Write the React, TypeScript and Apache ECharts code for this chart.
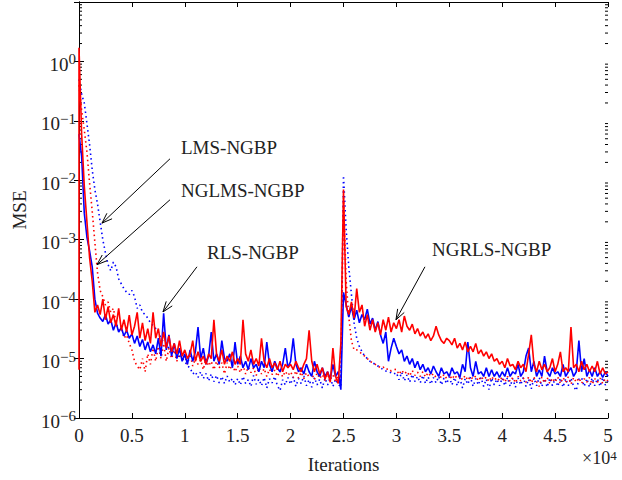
import React, { useEffect, useRef } from "react";
import * as echarts from "echarts";

// ---------- data (MSE values in units of 1e-6, one value every 250 iterations) ----------
const X_MAX = 50000;
const X_STEP = 250;
const UNIT = 1e-6;
const iterations: number[] = [];
for (let it = 0; it <= X_MAX; it += X_STEP) iterations.push(it);

// NGLMS-NGBP (blue solid)
const nglms = [
  60000, 25000, 2800, 1100, 650, 350, 100, 58, 48, 42, 55, 38, 45, 30, 40, 28, 33, 24, 30, 22,
  26, 18, 24, 16, 21, 14, 19, 13, 17, 12, 22, 11, 58, 14, 25, 11, 18, 10, 15, 9,
  12, 8, 14, 9, 13, 34, 10, 15, 8, 11, 28, 9, 12, 8, 20, 10, 9, 12, 7, 19,
  8, 11, 7, 9, 6.5, 10, 7, 8, 6, 9, 7, 19, 8, 6, 9, 7, 6, 8, 15, 7,
  9, 22, 8, 6, 7, 5.5, 8, 6, 5, 9, 6, 5, 7, 5, 6, 4.5, 8, 5, 6, 3,
  130, 80, 50, 75, 45, 65, 40, 55, 45, 68, 38, 48, 30, 42, 25, 18, 28, 9, 15, 22,
  16, 12, 14, 9, 11, 8, 10, 7, 9, 6.5, 8, 6, 7, 5.5, 7.5, 6, 5, 7, 5.5, 6,
  5, 7, 5.5, 6, 4.8, 8, 6, 19, 7, 5, 9, 5.5, 6, 5, 7, 5, 6.5, 5, 6, 4.8,
  6, 5, 7, 5, 6, 5.5, 8, 5, 6, 11, 15, 6, 9, 5, 6.5, 5, 11, 6, 5, 7,
  5.5, 6, 5, 8, 5, 6, 7, 5, 6, 20, 6, 10, 5, 6.5, 5, 7, 5, 6, 4.8, 6, 5,
];

// NGRLS-NGBP (red solid)
const ngrlsStart: [number, number][] = [[0, 6.5e-6]];
const ngrls = [
  1700000, 60000, 8000, 2000, 500, 200, 60, 80, 55, 100, 45, 75, 40, 55, 35, 70, 30, 45, 28, 54,
  25, 35, 60, 22, 40, 20, 32, 18, 60, 22, 32, 16, 28, 15, 24, 13, 18, 12, 20, 11,
  14, 10, 12, 20, 9, 13, 9, 11, 8, 12, 10, 45, 12, 9, 14, 8, 11, 9, 13, 8,
  10, 8, 45, 12, 9, 14, 8, 10, 7.5, 22, 9, 7, 10, 7, 8.5, 6.5, 9, 6, 8, 7,
  8, 6.5, 9, 7, 6, 8, 10, 30, 9, 6, 8, 5.5, 7, 4.5, 6, 4, 15, 5, 3.8, 18,
  7000, 75, 55, 90, 48, 150, 60, 80, 35, 55, 30, 45, 28, 40, 25, 45, 30, 50, 28, 40,
  32, 45, 28, 52, 35, 30, 38, 26, 32, 24, 28, 22, 26, 20, 24, 35, 25, 20, 18, 22,
  20, 17, 22, 15, 18, 14, 19, 13, 16, 13, 18, 12, 14, 11, 13, 10, 12, 9, 10, 8,
  9, 7, 10, 7.5, 8, 6.5, 9, 7, 8, 6, 12, 25, 8, 6, 9, 6.5, 8, 6, 7, 10,
  6, 8, 13, 6, 7, 6, 34, 7, 8, 6, 9, 6.5, 8, 6, 7.5, 6, 9, 5.5, 7, 5.5, 6,
];

// LMS-NGBP (blue dotted)
const lms = [
  500000, 280000, 200000, 90000, 40000, 15000, 7000, 4000, 2000, 1000, 600, 380, 300, 420, 350, 220, 180, 150, 130, 120,
  140, 110, 70, 80, 60, 55, 48, 40, 36, 32, 28, 22, 19, 17, 15, 14, 13, 12, 11, 10,
  9, 7.5, 7, 5.5, 6, 4.8, 6, 4.6, 5.6, 4.2, 5.5, 4.1, 5.2, 3.9, 5, 3.8, 5.1, 4, 4.6, 3.6,
  4.6, 3.6, 5, 3.8, 4.4, 3.4, 5.2, 3.7, 4.5, 3.5, 4.8, 3.2, 4.6, 3.9, 5, 3.5, 2.9, 4.4, 3.6, 4.8,
  3.7, 4.9, 3.4, 4.6, 3.8, 5.1, 3.5, 4.4, 3.3, 4.8, 3.6, 4.5, 3.2, 4.7, 3.6, 4.9, 3.4, 4.5, 3.7, 3.3,
  12000, 1500, 350, 120, 40, 22, 16, 13, 11, 10, 9, 8.5, 8, 7.5, 7, 6.5, 6.2, 6, 5.8, 5.5,
  5.8, 4.4, 5.9, 4.2, 5.3, 4, 5.4, 4.1, 5, 3.9, 5.2, 3.8, 4.9, 3.7, 4.8, 3.9, 5, 3.6, 4.7, 3.8,
  4.9, 3.6, 4.8, 3.5, 4.7, 3.2, 4.6, 3.7, 4.9, 3.4, 4.6, 3.6, 4.8, 3.4, 4.5, 3, 4.7, 3.6, 4.5, 3.5,
  4.7, 3.5, 4.8, 3.4, 4.6, 3.3, 4.7, 3.6, 4.8, 3.4, 4.5, 3.1, 4.7, 3.5, 4.8, 3.4, 4.6, 3.3, 4.7, 3.5,
  4.6, 3.4, 4.7, 3.3, 4.6, 3.5, 4.7, 3.4, 2.9, 4.5, 4.8, 3.4, 4.6, 3.3, 4.7, 3.5, 4.6, 3.4, 4.8, 3.6, 4.2,
];

// RLS-NGBP (red dotted)
const rls = [
  400000, 150000, 70000, 30000, 9000, 3000, 900, 280, 140, 110, 80, 90, 60, 70, 40, 30, 35, 22, 25, 18,
  14, 9, 7.5, 6.5, 10, 6, 12, 8, 15, 9, 16, 10, 18, 9, 15, 10, 14, 9, 13, 10,
  11, 8, 12, 7.5, 10, 8, 9.5, 6.5, 10, 7.5, 9, 6.5, 9, 7, 8.5, 5.5, 8.5, 6.5, 8, 6,
  7.5, 5.8, 7.8, 5.5, 7.2, 5.8, 7, 5.2, 7, 5.5, 6.8, 5, 6.6, 5.4, 6.4, 5, 6.2, 4.9, 6.1, 5.2,
  6, 4.8, 6.2, 4.7, 5.9, 4.6, 5.8, 4.9, 5.6, 4.4, 5.7, 4.6, 5.4, 4.3, 5.5, 4.5, 5.3, 4.2, 5.2, 4.5,
  5000, 200, 50, 20, 14, 14, 13, 12, 11, 10, 9, 8.5, 8, 7.5, 7, 7.2, 6.5, 6.8, 6.2, 6.5,
  6.6, 5.4, 6.4, 5.5, 6.1, 5.1, 6.3, 5.2, 5.9, 5, 6, 4.9, 5.8, 5, 5.6, 4.8, 5.5, 4.7, 5.4, 4.6,
  5.4, 4.5, 5.3, 4.6, 5.1, 4.4, 5.2, 4.3, 5, 4.5, 5.1, 4.2, 5, 4.4, 4.9, 4.1, 5, 4.3, 4.8, 4.2,
  4.9, 4, 5, 4.1, 4.8, 3.9, 5, 4.2, 4.7, 4, 4.9, 3.9, 4.8, 4.1, 3.4, 4.9, 3.9, 4.8, 3.8, 4.7,
  4, 4.9, 3.8, 4.8, 4, 4.9, 3.7, 4.8, 4, 4.7, 3.8, 4.6, 4, 4.8, 3.7, 4.6, 4, 4.7, 3.8, 4.6, 4.2,
];

// annotations: label, arrow tail and tip in data coordinates
const annotations = [
  { label: "LMS-NGBP", tail: [8600, 0.023], tip: [2170, 1.9e-3], dx: 11, dy: -11 },
  { label: "NGLMS-NGBP", tail: [8600, 4.7e-3], tip: [1700, 3.8e-4], dx: 11, dy: -9 },
  { label: "RLS-NGBP", tail: [11150, 3.5e-4], tip: [7940, 6.1e-5], dx: 10, dy: -14 },
  { label: "NGRLS-NGBP", tail: [32700, 3.5e-4], tip: [29960, 4.5e-5], dx: 7, dy: -17 },
];

const Y_MIN = 1e-6;
const Y_MAX = 10;
const minorTickValues: number[] = [];
for (let e = -6; e < 1; e++) for (let m = 2; m <= 9; m++) minorTickValues.push(m * Math.pow(10, e));

const FONT = "Liberation Serif";
const TEXT_COLOR = "#222";

const toPairs = (arr: number[]) => iterations.map((it, i) => [it, arr[i] * UNIT]);

const supRich = {
  b: { fontSize: 19, fontFamily: FONT, color: TEXT_COLOR, lineHeight: 19, padding: [6, 0, 0, 0] },
  s: { fontSize: 15, fontFamily: FONT, color: TEXT_COLOR, lineHeight: 15, verticalAlign: "top" },
};

export default function App() {
  const ref = useRef<HTMLDivElement>(null);
  useEffect(() => {
    document.body.style.margin = "0";
    if (!ref.current) return;
    const chart = echarts.init(ref.current, null, { renderer: "svg" });
    const tickStyle = { show: true, inside: true, length: 5, lineStyle: { color: "#000", width: 1 } };
    const axisLine = { show: true, lineStyle: { color: "#000", width: 1 } };
    const dotted = [1.5, 3.2];
    const option: any = {
      animation: false,
      backgroundColor: "#fff",
      grid: { left: 79, right: 14, top: 2, bottom: 62, containLabel: false },
      xAxis: [
        {
          type: "value",
          min: 0,
          max: X_MAX,
          interval: 5000,
          position: "bottom",
          axisLine,
          axisTick: tickStyle,
          splitLine: { show: false },
          axisLabel: {
            margin: 8,
            fontSize: 19,
            fontFamily: FONT,
            color: TEXT_COLOR,
            formatter: (v: number) => String(v / 10000),
          },
          name: "Iterations",
          nameLocation: "middle",
          nameGap: 37,
          nameTextStyle: { fontSize: 19, fontFamily: FONT, color: TEXT_COLOR },
        },
        {
          type: "value",
          min: 0,
          max: X_MAX,
          interval: 5000,
          position: "top",
          axisLine,
          axisTick: tickStyle,
          axisLabel: { show: false },
          splitLine: { show: false },
        },
      ],
      yAxis: [
        {
          type: "log",
          logBase: 10,
          min: Y_MIN,
          max: Y_MAX,
          position: "left",
          axisLine,
          axisTick: tickStyle,
          splitLine: { show: false },
          axisLabel: {
            margin: 3,
            fontSize: 19,
            fontFamily: FONT,
            color: TEXT_COLOR,
            formatter: (v: number) => {
              const e = Math.round(Math.log10(v));
              if (e >= 1) return "";
              const s = e < 0 ? "\u2212" + String(-e) : String(e);
              return "{b|10}{s|" + s + "}";
            },
            rich: supRich,
          },
          name: "MSE",
          nameLocation: "middle",
          nameGap: 50,
          nameTextStyle: { fontSize: 19, fontFamily: FONT, color: TEXT_COLOR },
        },
        {
          type: "log",
          logBase: 10,
          min: Y_MIN,
          max: Y_MAX,
          position: "right",
          axisLine,
          axisTick: tickStyle,
          axisLabel: { show: false },
          splitLine: { show: false },
        },
      ],
      series: [
        {
          name: "LMS-NGBP",
          type: "line",
          data: toPairs(lms),
          showSymbol: false,
          symbol: "none",
          lineStyle: { color: "#0000ff", width: 1.6, type: dotted },
        },
        {
          name: "RLS-NGBP",
          type: "line",
          data: toPairs(rls),
          showSymbol: false,
          symbol: "none",
          lineStyle: { color: "#ff0000", width: 1.6, type: dotted },
        },
        {
          name: "NGLMS-NGBP",
          type: "line",
          data: toPairs(nglms),
          showSymbol: false,
          symbol: "none",
          lineStyle: { color: "#0000ff", width: 1.6 },
        },
        {
          name: "NGRLS-NGBP",
          type: "line",
          data: [...ngrlsStart, ...toPairs(ngrls)],
          showSymbol: false,
          symbol: "none",
          lineStyle: { color: "#ff0000", width: 1.6 },
        },
        {
          name: "minorTicks",
          type: "custom",
          silent: true,
          clip: false,
          data: minorTickValues.map((v) => [0, v]),
          renderItem: (_p: any, api: any) => {
            const v = api.value(1);
            const l = api.coord([0, v]);
            const r = api.coord([X_MAX, v]);
            const st = { stroke: "#000", lineWidth: 1 };
            return {
              type: "group",
              children: [
                { type: "line", shape: { x1: l[0], y1: l[1], x2: l[0] + 3, y2: l[1] }, style: st },
                { type: "line", shape: { x1: r[0] - 3, y1: r[1], x2: r[0], y2: r[1] }, style: st },
              ],
            };
          },
        },
      ],
    };
    chart.setOption(option);

    const graphics: any[] = [];
    const HEAD = 11;
    const ANG = (20 * Math.PI) / 180;
    annotations.forEach((a) => {
      const t = chart.convertToPixel({ gridIndex: 0 }, a.tail) as number[];
      const p = chart.convertToPixel({ gridIndex: 0 }, a.tip) as number[];
      const ang = Math.atan2(t[1] - p[1], t[0] - p[0]);
      const w1 = [p[0] + HEAD * Math.cos(ang + ANG), p[1] + HEAD * Math.sin(ang + ANG)];
      const w2 = [p[0] + HEAD * Math.cos(ang - ANG), p[1] + HEAD * Math.sin(ang - ANG)];
      graphics.push({
        type: "line",
        shape: { x1: t[0], y1: t[1], x2: p[0], y2: p[1] },
        style: { stroke: "#000", lineWidth: 1 },
        z: 100,
      });
      graphics.push({
        type: "polyline",
        shape: { points: [w1, p, w2] },
        style: { stroke: "#000", lineWidth: 1, fill: null },
        z: 100,
      });
      graphics.push({
        type: "text",
        x: t[0] + a.dx,
        y: t[1] + a.dy,
        style: {
          text: a.label,
          fontSize: 19,
          fontFamily: FONT,
          fill: TEXT_COLOR,
          align: "left",
          verticalAlign: "middle",
        },
        z: 100,
      });
    });
    const corner = chart.convertToPixel({ gridIndex: 0 }, [X_MAX, Y_MIN]) as number[];
    graphics.push({
      type: "text",
      x: corner[0] - 26,
      y: corner[1] + 40,
      style: {
        text: "\u00d710{s|4}",
        fontSize: 18,
        fontFamily: FONT,
        fill: TEXT_COLOR,
        verticalAlign: "middle",
        rich: {
          s: { fontSize: 13, fontFamily: FONT, fill: TEXT_COLOR, verticalAlign: "top", lineHeight: 13 },
        },
      },
      z: 100,
    });
    chart.setOption({ graphic: graphics });

    return () => chart.dispose();
  }, []);
  return <div ref={ref} style={{ width: 622, height: 480 }} />;
}
